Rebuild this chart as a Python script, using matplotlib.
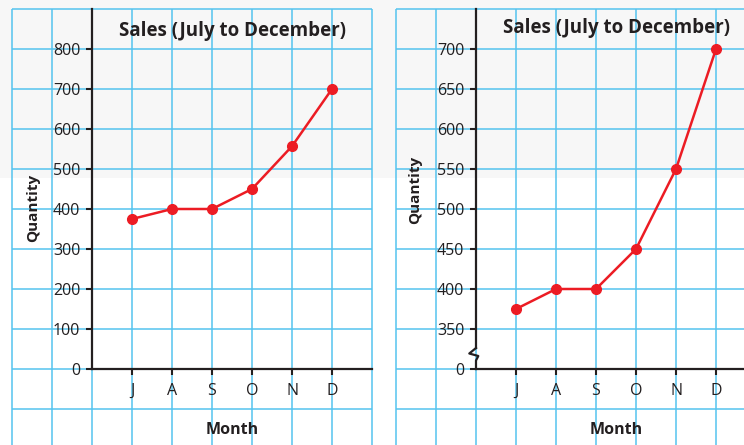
import numpy as np
import matplotlib
matplotlib.use("Agg")
import matplotlib.pyplot as plt
from matplotlib.patches import Rectangle
from matplotlib.transforms import ScaledTranslation

# Data
months = ["J", "A", "S", "O", "N", "D"]
left_sales = [375, 400, 400, 450, 557, 700]
right_sales = [375, 400, 400, 450, 550, 700]
left_ticks = [0, 100, 200, 300, 400, 500, 600, 700, 800]
right_ticks = [0, 350, 400, 450, 500, 550, 600, 650, 700]

grid_color = "#55c4ef"
line_color = "#ec1c24"
text_color = "#231f20"
plt.rcParams["font.family"] = ["Open Sans", "DejaVu Sans"]

fig = plt.figure(figsize=(7.44, 4.45), dpi=100)
fig.patches.append(Rectangle((0, 0.6), 1, 0.4, transform=fig.transFigure,
                             facecolor="#f7f7f7", edgecolor="none", zorder=-10))

W, H = 744, 445
ax1 = fig.add_axes([12 / W, 0, 360 / W, 436 / H])
ax2 = fig.add_axes([396 / W, 0, 348 / W, 436 / H])

# broken scale for the right panel: 0..350 squeezed into one grid cell
def fwd(v):
    v = np.asarray(v, dtype=float)
    return np.where(v >= 350, (v - 300) / 50, v / 350)

def inv(p):
    p = np.asarray(p, dtype=float)
    return np.where(p >= 1, p * 50 + 300, p * 350)

ax2.set_yscale("function", functions=(fwd, inv))

x = np.arange(1, len(months) + 1)

ax1.set_xlim(-2, 7)
ax1.set_ylim(-190, 900)
ax2.set_xlim(-2, 6.7)
ax2.set_ylim(-665, 750)

panels = [
    (ax1, left_sales, np.arange(-2, 8), np.arange(-100, 1000, 100)),
    (ax2, right_sales, np.arange(-2, 7), [-350, 0] + list(range(350, 800, 50))),
]
for ax, vals, gx, gy in panels:
    ax.set_facecolor("none")
    lo, hi = ax.get_ylim()
    ax.vlines(gx, lo, hi, color=grid_color, lw=1.1, zorder=0, clip_on=False)
    xlo, xhi = ax.get_xlim()
    ax.hlines(gy, xlo, xhi, color=grid_color, lw=1.1, zorder=0, clip_on=False)

    ax.plot(x, vals, color=line_color, lw=1.8, marker="o", ms=7,
            zorder=5, clip_on=False)

    for s in ["top", "right"]:
        ax.spines[s].set_visible(False)
    ax.spines["left"].set_position(("data", 0))
    ax.spines["bottom"].set_position(("data", 0))
    for s in ["left", "bottom"]:
        ax.spines[s].set_linewidth(1.6)
        ax.spines[s].set_color(text_color)
        ax.spines[s].set_zorder(3)
    ax.spines["bottom"].set_bounds(0, xhi)

    ax.set_xticks(x)
    ax.set_xticklabels(months)
    ax.tick_params(axis="both", direction="out", length=4.5, width=1.5,
                   color=text_color, labelcolor=text_color, labelsize=11.5)
    ax.tick_params(axis="x", pad=5.5)
    ax.tick_params(axis="y", pad=4)

ax1.set_yticks(left_ticks)
ax1.spines["left"].set_bounds(0, 900)
ax2.set_yticks(right_ticks)
ax2.yaxis.set_minor_locator(plt.NullLocator())
ax2.set_yticklabels([str(t) for t in right_ticks])
ax2.spines["left"].set_bounds(float(inv(21 / 40)), 750)

# zigzag break mark, offsets in inches from the origin
zig = fig.dpi_scale_trans + ScaledTranslation(0, 0, ax2.transData)
ax2.plot([0, -0.067, 0.023, 0, 0], [0.21, 0.155, 0.13, 0.085, 0],
         transform=zig, color=text_color, lw=1.6, clip_on=False, zorder=4)

# titles and labels
ax1.text(0.6125, 0.939, "Sales (July to December)", transform=ax1.transAxes,
         ha="center", va="baseline", fontsize=13.5, fontweight="bold",
         color=text_color)
ax2.text(0.634, 0.944, "Sales (July to December)", transform=ax2.transAxes,
         ha="center", va="baseline", fontsize=13.5, fontweight="bold",
         color=text_color)

for ax, lx, ly in [(ax1, 0.077, 0.543), (ax2, 0.075, 0.585)]:
    ax.set_ylabel("Quantity", fontsize=11, fontweight="bold", color=text_color)
    ax.yaxis.set_label_coords(lx, ly)

fig.text(232 / W, 1 - 434 / H, "Month", ha="center", va="baseline",
         fontsize=11.5, fontweight="bold", color=text_color)
fig.text(616 / W, 1 - 434 / H, "Month", ha="center", va="baseline",
         fontsize=11.5, fontweight="bold", color=text_color)

plt.savefig("out.png", dpi=100)
